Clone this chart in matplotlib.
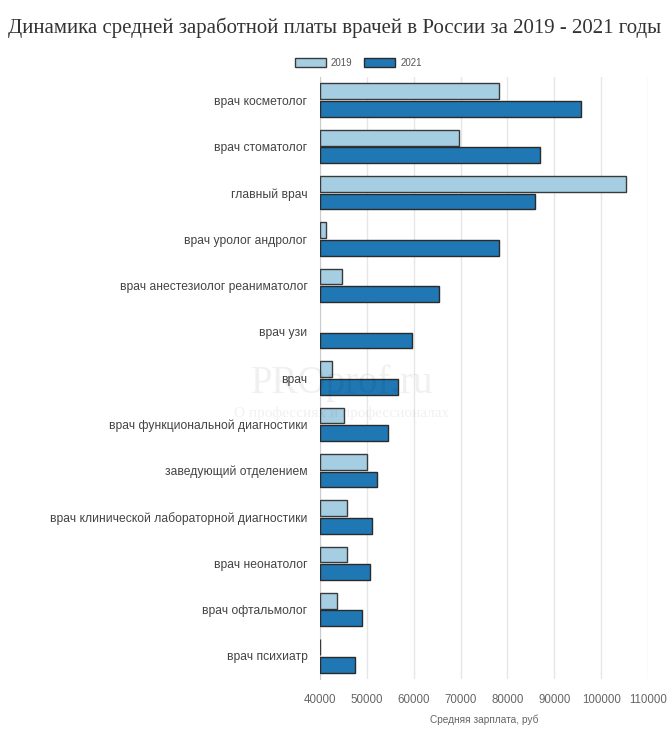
import numpy as np
import matplotlib
matplotlib.use("Agg")
import matplotlib.pyplot as plt

categories = [
    "врач косметолог",
    "врач стоматолог",
    "главный врач",
    "врач уролог андролог",
    "врач анестезиолог реаниматолог",
    "врач узи",
    "врач",
    "врач функциональной диагностики",
    "заведующий отделением",
    "врач клинической лабораторной диагностики",
    "врач неонатолог",
    "врач офтальмолог",
    "врач психиатр",
]
salary_2019 = [78200, 69600, 105400, 41300, 44800, np.nan, 42500, 45200, 50000, 45800, 45800, 43600, 40100]
salary_2021 = [95700, 87000, 85900, 78200, 65300, 59700, 56600, 54500, 52100, 51100, 50700, 49000, 47500]
x_ticks = [40000, 50000, 60000, 70000, 80000, 90000, 100000, 110000]

c2019 = "#a6cee3"
c2021 = "#1f78b4"

fig = plt.figure(figsize=(6.7, 7.32), dpi=100)
ax = fig.add_axes([0.4776, 0.0724, 0.4896, 0.8224])

y = np.arange(len(categories))
h = 0.34
base = 40000
v19 = np.array(salary_2019) - base
v21 = np.array(salary_2021) - base
ax.barh(y - h / 2 - 0.02, v19, height=h, left=base, color=c2019,
        edgecolor="#3a3a3a", linewidth=1.0, label="2019", zorder=3)
ax.barh(y + h / 2 + 0.02, v21, height=h, left=base, color=c2021,
        edgecolor="#2a2a2a", linewidth=1.0, label="2021", zorder=3)

ax.set_ylim(len(categories) - 0.5, -0.5)
ax.set_xlim(40000, 110000)
ax.set_yticks(y)
ax.set_yticklabels(categories, fontsize=8.7, color="#444444", family="Liberation Sans")
ax.set_xticks(x_ticks)
ax.set_xticklabels([str(v) for v in x_ticks], fontsize=8.3, color="#666666",
                   family="Liberation Sans")
ax.tick_params(axis="x", length=0, pad=11)
ax.tick_params(axis="y", length=0, pad=9)

for s in ["top", "right", "bottom"]:
    ax.spines[s].set_visible(False)
ax.spines["left"].set_color("#cccccc")
ax.grid(axis="x", color="#e6e6e6", linewidth=1, zorder=0)
ax.set_axisbelow(True)

ax.set_xlabel("Средняя зарплата, руб", fontsize=7.3, color="#666666", labelpad=6,
              family="Liberation Sans")

fig.text(0.5, 0.962, "Динамика средней заработной платы врачей в России за 2019 - 2021 годы",
         ha="center", va="center", fontsize=15, family="Liberation Serif", color="#333333")

fig.legend(loc="center", bbox_to_anchor=(0.535, 0.914), ncol=2, frameon=False,
           prop={"family": "Liberation Sans", "size": 7}, handlelength=3.2,
           handleheight=1.0, columnspacing=1.2, handletextpad=0.5, labelcolor="#555555")

# watermark
fig.text(0.51, 0.477, "PROprof.ru", ha="center", va="center", fontsize=28,
         family="Liberation Serif", color="#000000", alpha=0.06)
fig.text(0.51, 0.435, "О профессиях и профессионалах", ha="center", va="center",
         fontsize=11, family="Liberation Serif", color="#000000", alpha=0.06)

fig.savefig("out.png", dpi=100, facecolor="white")
